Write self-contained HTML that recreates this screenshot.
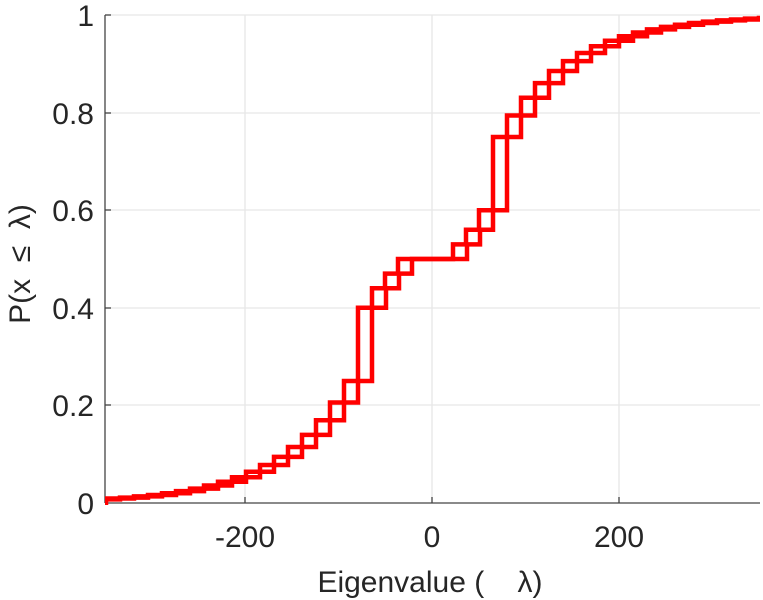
<!DOCTYPE html>
<html><head><meta charset="utf-8"><style>
body{margin:0;background:#fff;}
svg{display:block;font-family:"Liberation Sans",sans-serif;}
</style></head><body>
<svg id="s" width="763" height="600" viewBox="0 0 763 600">
<defs><clipPath id="c"><rect x="105" y="10" width="655" height="495"/></clipPath></defs>
<g stroke="#e6e6e6" stroke-width="1.3">
<line x1="245" y1="15" x2="245" y2="503"/><line x1="432" y1="15" x2="432" y2="503"/><line x1="619" y1="15" x2="619" y2="503"/>
<line x1="105" y1="15" x2="760" y2="15"/><line x1="105" y1="113" x2="760" y2="113"/><line x1="105" y1="210" x2="760" y2="210"/><line x1="105" y1="308" x2="760" y2="308"/><line x1="105" y1="405" x2="760" y2="405"/>
</g>
<g stroke="#444" stroke-width="1.3">
<line x1="105" y1="15" x2="105" y2="503"/><line x1="105" y1="503" x2="760" y2="503"/>
<line x1="245" y1="503" x2="245" y2="497"/><line x1="432" y1="503" x2="432" y2="497"/><line x1="619" y1="503" x2="619" y2="497"/>
<line x1="105" y1="15" x2="111" y2="15"/><line x1="105" y1="113" x2="111" y2="113"/><line x1="105" y1="210" x2="111" y2="210"/><line x1="105" y1="308" x2="111" y2="308"/><line x1="105" y1="405" x2="111" y2="405"/>
</g>
<g id="curves" clip-path="url(#c)" fill="none" stroke="#ff0000" stroke-width="4.5"></g>
<g font-size="30" fill="#262626" text-anchor="end">
<text x="94" y="26">1</text><text x="94" y="124">0.8</text><text x="94" y="221">0.6</text><text x="94" y="319">0.4</text><text x="94" y="416">0.2</text><text x="94" y="514">0</text>
</g>
<g font-size="30" fill="#262626" text-anchor="middle">
<text x="245" y="547">-200</text><text x="432" y="547">0</text><text x="619" y="547">200</text>
<text x="430" y="592" xml:space="preserve">Eigenvalue (    λ)</text>
<text transform="translate(30,264) rotate(-90)" xml:space="preserve">P(x  ≤  λ)</text>
</g>
</svg>
<script>
function Y(v){return 503-488*v;}
function F(x){return 0.25*Math.exp((x-344)/72);}
var L=[];
var xs=[];for(var x=344;x>90;x-=14)xs.push(x);xs.reverse();
xs.forEach(function(x){L.push([x,F(x-14),F(x)]);});
L.push([358,0.25,0.40]);L.push([372,0.40,0.44]);L.push([385,0.44,0.47]);L.push([398,0.47,0.5]);
var R=L.map(function(s){return [s[0]+14,s[1],s[2]];});
function refl(st){return st.map(function(s){return [865-s[0],1-s[2],1-s[1]];}).reverse();}
function path(lo,hi){
 var st=lo.concat(hi);
 var d="M60 "+Y(0);
 st.forEach(function(s){d+=" H"+s[0]+" V"+Y(s[2]);});
 d+=" H800";return d;
}
var g=document.getElementById("curves");
[path(L,refl(R)),path(R,refl(L))].forEach(function(d){
 var p=document.createElementNS("http://www.w3.org/2000/svg","path");p.setAttribute("d",d);g.appendChild(p);
});
</script>
</body></html>
